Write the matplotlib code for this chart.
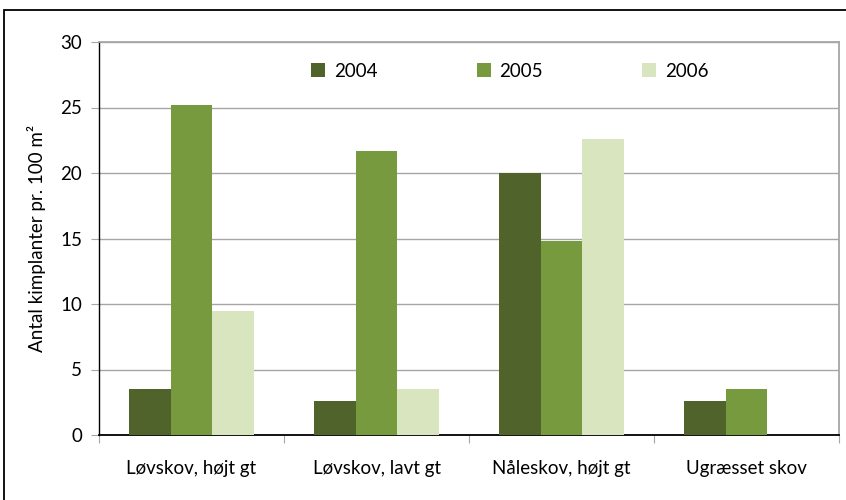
import matplotlib
matplotlib.use("Agg")
import matplotlib.pyplot as plt
import numpy as np
from matplotlib.patches import Rectangle

plt.rcParams['font.family'] = ['Lato', 'DejaVu Sans']

categories = ["Løvskov, højt gt", "Løvskov, lavt gt", "Nåleskov, højt gt", "Ugræsset skov"]
years = ["2004", "2005", "2006"]
v2004 = [3.5, 2.6, 20.0, 2.6]
v2005 = [25.2, 21.7, 14.8, 3.5]
v2006 = [9.5, 3.5, 22.6, 0.0]
colors = ["#50632a", "#779a3e", "#d9e5bf"]

fig = plt.figure(figsize=(8.46, 5.0), dpi=100)
ax = fig.add_axes([99/846, 1-435/500, (839-99)/846, (435-42)/500])

# outer frame
fig.patches.append(Rectangle((4/846, -0.1), 1.2, 1-10/500+0.1, transform=fig.transFigure,
                             fill=False, edgecolor="black", linewidth=1.3))

x = np.arange(len(categories))
w = 0.224
for i, (vals, c, lab) in enumerate(zip([v2004, v2005, v2006], colors, years)):
    ax.bar(x + (i-1)*w, vals, width=w, color=c, label=lab, zorder=3)

ax.set_xlim(-0.5, len(categories)-0.5)
ax.set_ylim(0, 30)
ax.set_yticks(np.arange(0, 31, 5))
ax.yaxis.grid(True, color="#a6a6a6", linewidth=1.0, zorder=0)
ax.set_axisbelow(True)

ax.set_xticks(np.arange(-0.5, len(categories), 1.0))
ax.set_xticklabels([])
ax.set_xticks(x, minor=True)
ax.set_xticklabels(categories, minor=True, fontsize=13.5)
ax.tick_params(axis='x', which='minor', length=0, pad=18)
ax.tick_params(axis='x', which='major', length=6, color="#a6a6a6", direction='out')
ax.tick_params(axis='y', length=6, color="#a6a6a6", labelsize=13.5, pad=6)

ax.spines['left'].set_color("black")
ax.spines['bottom'].set_color("black")
ax.spines['bottom'].set_linewidth(1.3)
ax.spines['left'].set_linewidth(1.0)
ax.spines['top'].set_color("#a6a6a6")
ax.spines['right'].set_color("#a6a6a6")
ax.spines['top'].set_linewidth(1.3)
ax.spines['right'].set_linewidth(1.3)

ax.set_ylabel("Antal kimplanter pr. 100 m²", fontsize=13.5, labelpad=10)

ax.legend(loc="upper center", ncol=3, frameon=False, fontsize=13.5,
          bbox_to_anchor=(0.555, 0.99), columnspacing=5.3, handlelength=0.75,
          handleheight=0.75, handletextpad=0.45)

fig.savefig("out.png", dpi=100)
